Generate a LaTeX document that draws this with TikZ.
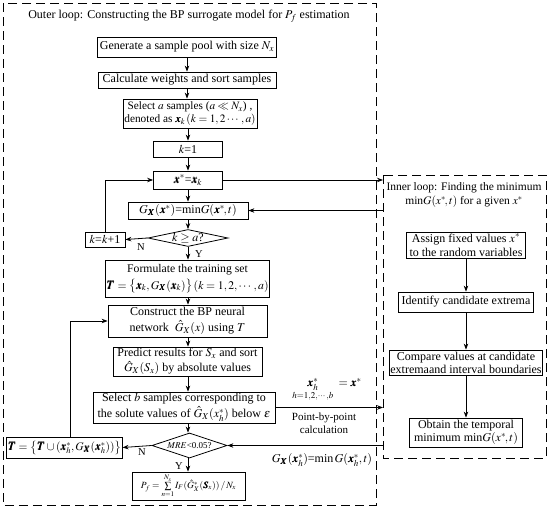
\documentclass[tikz,border=0pt]{standalone}
\usepackage{amsmath}
\usepackage{mathptmx}
\usepackage{bm}
\usepackage{fontspec}
\setmainfont{Liberation Serif}
\usetikzlibrary{arrows.meta,shapes.geometric}
\begin{document}
\begin{tikzpicture}[x=1pt,y=-1pt,
  every node/.style={font=\fontsize{12}{14}\selectfont},
  box/.style={draw, line width=0.8pt, inner sep=1pt, align=center},
  dia/.style={draw, diamond, line width=0.8pt, inner sep=0pt},
  arr/.style={-{Stealth[length=6pt,width=4.5pt]}, line width=0.8pt},
  frame/.style={dash pattern=on 9pt off 5pt, line width=0.9pt},
  lbl/.style={inner sep=1pt, align=center},
  yn/.style={inner sep=1pt, font=\fontsize{10.5}{11}\selectfont}
]
\useasboundingbox (0,0) rectangle (550,509);
% frames
\draw[frame] (3,3) rectangle (376,505);
\draw[frame] (383,175) rectangle (546,458);
\coordinate (inL) at (383,0);

\node[lbl, font=\fontsize{12}{14}\selectfont] (otitle) at (189,16) {Outer loop: Constructing the BP surrogate model for $P_f$ estimation};

% main column
\node[box, minimum width=179, minimum height=20] (gen) at (187,47) {Generate a sample pool with size $N_x$};
\node[box, minimum width=178, minimum height=16] (calc) at (187,80) {Calculate weights and sort samples};
\node[box, minimum width=134, minimum height=29, font=\fontsize{11.3}{13}\selectfont] (sel) at (190,113.5) {Select $a$ samples ($a\ll N_x$) ,\\denoted as $\bm{x}_k\,(k=1,2\cdots,a)$};
\node[box, minimum width=69, minimum height=16] (k1) at (188,149) {$k$=1};
\node[box, minimum width=69, minimum height=18] (xs) at (188,180) {$\bm{x}^*$=$\bm{x}_k$};
\node[box, minimum width=120, minimum height=17] (gx) at (188,210.5) {$G_{\bm{X}}(\bm{x}^*)$=min$G(\bm{x}^*\!,t)$};
\node[dia, aspect=4.7, minimum width=80, minimum height=17] (d1) at (188,238) {$k\geq a$?};
\node[box, minimum width=40, minimum height=15] (kk) at (105,239.5) {$k$=$k$+1};
\node[box, minimum width=159, minimum height=37, font=\fontsize{11.7}{17}\selectfont] (form) at (187.5,278.5) {Formulate the training set\\$\bm{T}=\bigl\{\bm{x}_k,G_{\bm{X}}(\bm{x}_k)\bigr\}\,(k=1,2,\cdots,a)$};
\node[box, minimum width=159, minimum height=32, font=\fontsize{12}{15.5}\selectfont] (cons) at (187.5,321) {Construct the BP neural\\network~ $\hat{G}_X(x)$ using $T$};
\node[box, minimum width=149, minimum height=29, font=\fontsize{12}{15.5}\selectfont] (pred) at (187.5,361.5) {Predict results for $S_x$ and sort\\$\hat{G}_X(S_x)$ by absolute values};
\node[box, minimum width=182, minimum height=31, font=\fontsize{12}{15.5}\selectfont] (selb) at (184,407.5) {Select $b$ samples corresponding to\\the solute values of $\hat{G}_X(x_h^*)$ below $\varepsilon$};
\node[dia, aspect=3, minimum width=75, minimum height=25, font=\fontsize{9}{10}\selectfont] (d2) at (189.5,445.5) {$MRE$<0.05?};
\node[box, minimum width=115, minimum height=21, font=\fontsize{11.5}{13}\selectfont] (tb) at (64.5,447.5) {$\bm{T}=\bigl\{\bm{T}\cup(\bm{x}_h^*,G_{\bm{X}}(\bm{x}_h^*))\bigr\}$};
\node[box, minimum width=113, minimum height=28, font=\fontsize{9.5}{10}\selectfont] (pf) at (188.5,486) {$P_f=\sum\limits_{n=1}^{N_x} I_F(\hat{G}_X^*(\bm{S}_x))\,/\,N_x$};

% inner loop
\node[lbl, font=\fontsize{11.5}{14}\selectfont] (ititle) at (464,195) {Inner loop: Finding the minimum\\min$G(x^*\!,t)$ for a given $x^*$};
\node[box, minimum width=119, minimum height=26] (ia) at (466,245) {Assign fixed values $x^*$\\to the random variables};
\node[box, minimum width=135, minimum height=20] (ib) at (466,302) {Identify candidate extrema};
\node[box, minimum width=150, minimum height=25, font=\fontsize{12}{13}\selectfont] (ic) at (466,362.5) {Compare values at candidate\\extremaand interval boundaries};
\node[box, minimum width=113, minimum height=29, font=\fontsize{12}{13.5}\selectfont] (id) at (466,432.5) {Obtain the temporal\\minimum min$G(x^*\!,t)$};

% vertical arrows main
\draw[arr] (gen.south) -- (gen.south |- calc.north);
\draw[arr] (calc.south) -- (calc.south |- sel.north);
\draw[arr] (sel.south -| k1.north) -- (k1.north);
\draw[arr] (k1.south) -- (xs.north);
\draw[arr] (xs.south) -- (gx.north);
\draw[arr] (gx.south) -- (d1.north);
\draw[arr] (d1.south) -- (d1.south |- form.north);
\draw[arr] (form.south -| d1.south) -- (d1.south |- cons.north);
\draw[arr] (cons.south -| d1.south) -- (d1.south |- pred.north);
\draw[arr] (pred.south -| d1.south) -- (d1.south |- selb.north);
\draw[arr] (selb.south -| d1.south) -- (d1.south |- d2.north);
\draw[arr] (d2.south -| d1.south) -- (d1.south |- pf.north);

% loops
\draw[arr] (d1.west) -- (kk.east);
\draw[arr] (kk.north) |- (xs.west);
\draw[arr] (d2.west) -- (tb.east);
\coordinate (tbtop) at (70,0);
\draw[arr] (tb.north -| tbtop) |- (cons.west);

% labels
\node[yn] (n1) at (141,247) {N};
\node[yn] (y1) at (199,254) {Y};
\node[yn] (n2) at (142,452) {N};
\node[yn] (y2) at (179,466) {Y};

% connections to inner loop
\draw[arr] (xs.east) -- (xs.east -| inL);
\draw[arr] (gx.east -| inL) -- (gx.east);
\draw[arr] (selb.east) -- (selb.east -| inL);
\draw[arr] (d2.east -| inL) -- (d2.east);

\node[lbl] (xh) at (327,390) {$\underset{h=1,2,\cdots,b}{\bm{x}_h^*}\;=\bm{x}^*$};
\node[lbl, font=\fontsize{11}{13}\selectfont] (pbp) at (324,423) {Point-by-point\\calculation};
\node[lbl] (gmin) at (322,460) {$G_{\bm{X}}(\bm{x}_h^*)$=min$\,G(\bm{x}_h^*,t)$};

% inner arrows
\draw[arr] (ia.south) -- (ib.north);
\draw[arr] (ib.south) -- (ic.north);
\draw[arr] (ic.south) -- (id.north);
\end{tikzpicture}
\end{document}
